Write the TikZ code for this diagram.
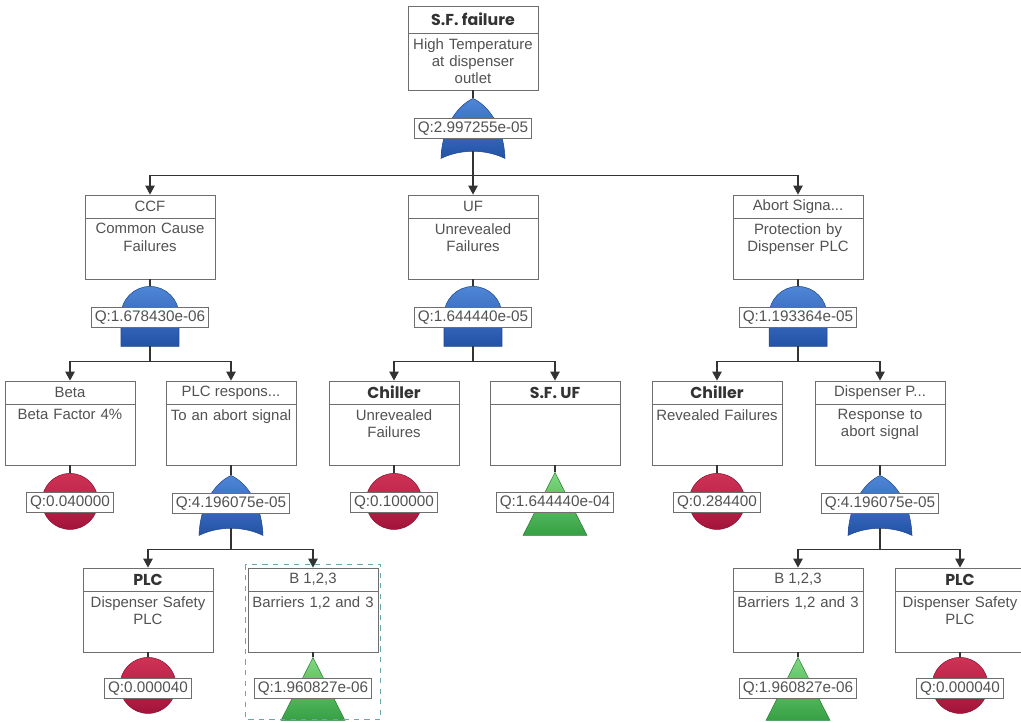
\documentclass[tikz,border=0pt]{standalone}
\usepackage{fontspec}
\setmainfont{Liberation Sans}
\newfontfamily\titlefont{Poppins}
\usetikzlibrary{positioning,arrows.meta}
\definecolor{textgray}{HTML}{525252}
\definecolor{linegray}{HTML}{6E6E6E}
\definecolor{gateblue}{HTML}{2352A6}
\definecolor{gatelight}{HTML}{4F86D6}
\definecolor{eventred}{HTML}{A3143A}
\definecolor{eventlight}{HTML}{CF3356}
\definecolor{transgreen}{HTML}{36A044}
\definecolor{translight}{HTML}{80D880}
\definecolor{selteal}{HTML}{6AA8A8}
\tikzset{
  evbox/.style={draw=linegray, fill=white, line width=0.5pt, minimum width=26mm, minimum height=16.8mm, inner sep=0pt},
  evtitle/.style={draw=linegray, line width=0.5pt, anchor=north, minimum width=26mm, minimum height=4.6mm, inner sep=0pt, text=textgray, font=\fontsize{8.5}{9.6}\selectfont},
  evtitlebold/.style={evtitle, text=black!80, font=\titlefont\bfseries\fontsize{9}{10}\selectfont},
  evbody/.style={anchor=north, text width=25mm, align=center, inner sep=0.9mm, text=textgray, font=\fontsize{8.5}{9.9}\selectfont},
  qlabel/.style={draw=linegray, fill=white, line width=0.5pt, inner xsep=0.7mm, inner ysep=0.4mm, minimum height=4mm, text=textgray, font=\fontsize{8.7}{9.8}\selectfont},
  link/.style={draw=black!80, line width=0.6pt},
  arrow/.style={link, -{Triangle[width=1.9mm,length=1.8mm]}},
  selbox/.style={draw=selteal, dashed, line width=0.6pt},
  andgate/.pic={
    \shade[top color=gatelight, bottom color=gateblue, draw=gateblue!85!black, line width=0.3pt]
      (-5.8mm,-12mm) -- (-5.8mm,-5.8mm) arc[start angle=180, end angle=0, radius=5.8mm] -- (5.8mm,-12mm) -- cycle;
    \coordinate (-top) at (0,0);
    \coordinate (-bot) at (0,-12mm);
  },
  orgate/.pic={
    \shade[top color=gatelight, bottom color=gateblue, draw=gateblue!85!black, line width=0.3pt]
      (0,0) .. controls (3.4mm,-1.6mm) and (6.2mm,-6mm) .. (6.4mm,-12mm)
      .. controls (2.5mm,-10.1mm) and (-2.5mm,-10.1mm) .. (-6.4mm,-12mm)
      .. controls (-6.2mm,-6mm) and (-3.4mm,-1.6mm) .. (0,0) -- cycle;
    \coordinate (-top) at (0,0);
    \coordinate (-bot) at (0,-10.6mm);
  },
  basicev/.pic={
    \shade[top color=eventlight, bottom color=eventred, draw=eventred!85!black, line width=0.3pt]
      (0,-5.6mm) circle[radius=5.6mm];
    \coordinate (-top) at (0,0);
  },
  transfer/.pic={
    \shade[top color=translight, bottom color=transgreen, draw=transgreen!80!black, line width=0.3pt]
      (0,0) -- (6.4mm,-12.6mm) -- (-6.4mm,-12.6mm) -- cycle;
    \coordinate (-top) at (0,0);
  }
}

\begin{document}
\begin{tikzpicture}[x=0.02cm, y=-0.02cm]
  \useasboundingbox (0,0) rectangle (1021,721);

  % event boxes
  \node[evbox] (sffail) at (473,48) {};
  \node[evtitlebold, minimum height=5.4mm] (sffail-t) at (sffail.north) {S.F. failure};
  \node[evbody, below=0mm of sffail-t] {High Temperature\\at dispenser\\outlet};

  \node[evbox] (ccf) at (150,237) {};
  \node[evtitle] (ccf-t) at (ccf.north) {CCF};
  \node[evbody, below=0mm of ccf-t] {Common Cause\\Failures};
  \node[evbox] (uf) at (473,237) {};
  \node[evtitle] (uf-t) at (uf.north) {UF};
  \node[evbody, below=0mm of uf-t] {Unrevealed\\Failures};
  \node[evbox] (abort) at (798,237) {};
  \node[evtitle] (abort-t) at (abort.north) {Abort Signa...};
  \node[evbody, below=0mm of abort-t] {Protection by\\Dispenser PLC};

  \node[evbox] (beta) at (70,423) {};
  \node[evtitle] (beta-t) at (beta.north) {Beta};
  \node[evbody, below=0mm of beta-t] {Beta Factor 4\%};
  \node[evbox] (plcresp) at (231,423) {};
  \node[evtitle] (plcresp-t) at (plcresp.north) {PLC respons...};
  \node[evbody, below=0mm of plcresp-t] {To an abort signal};
  \node[evbox] (chill1) at (394,423) {};
  \node[evtitlebold] (chill1-t) at (chill1.north) {Chiller};
  \node[evbody, below=0mm of chill1-t] {Unrevealed\\Failures};
  \node[evbox] (sfuf) at (555,423) {};
  \node[evtitlebold] (sfuf-t) at (sfuf.north) {S.F. UF};
  \node[evbox] (chill2) at (717,423) {};
  \node[evtitlebold] (chill2-t) at (chill2.north) {Chiller};
  \node[evbody, below=0mm of chill2-t] {Revealed Failures};
  \node[evbox] (disp) at (880,423) {};
  \node[evtitle] (disp-t) at (disp.north) {Dispenser P...};
  \node[evbody, below=0mm of disp-t] {Response to\\abort signal};

  \node[evbox] (plc1) at (148,610) {};
  \node[evtitlebold] (plc1-t) at (plc1.north) {PLC};
  \node[evbody, below=0mm of plc1-t] {Dispenser Safety\\PLC};
  \node[evbox] (b123a) at (313,610) {};
  \node[evtitle] (b123a-t) at (b123a.north) {B 1,2,3};
  \node[evbody, below=0mm of b123a-t] {Barriers 1,2 and 3};
  \node[evbox] (b123b) at (798,610) {};
  \node[evtitle] (b123b-t) at (b123b.north) {B 1,2,3};
  \node[evbody, below=0mm of b123b-t] {Barriers 1,2 and 3};
  \node[evbox] (plc2) at (960,610) {};
  \node[evtitlebold] (plc2-t) at (plc2.north) {PLC};
  \node[evbody, below=0mm of plc2-t] {Dispenser Safety\\PLC};

  % gates and basic events
  \pic (sffail-g) at ([yshift=-1.6mm]sffail.south) {orgate};
  \pic (ccf-g) at ([yshift=-1.4mm]ccf.south) {andgate};
  \pic (uf-g) at ([yshift=-1.4mm]uf.south) {andgate};
  \pic (abort-g) at ([yshift=-1.4mm]abort.south) {andgate};
  \pic (beta-g) at ([yshift=-1.6mm]beta.south) {basicev};
  \pic (plcresp-g) at ([yshift=-2mm]plcresp.south) {orgate};
  \pic (chill1-g) at ([yshift=-1.6mm]chill1.south) {basicev};
  \pic (sfuf-g) at ([yshift=-1.4mm]sfuf.south) {transfer};
  \pic (chill2-g) at ([yshift=-1.6mm]chill2.south) {basicev};
  \pic (disp-g) at ([yshift=-2mm]disp.south) {orgate};
  \pic (plc1-g) at ([yshift=-1mm]plc1.south) {basicev};
  \pic (b123a-g) at ([yshift=-1mm]b123a.south) {transfer};
  \pic (b123b-g) at ([yshift=-1mm]b123b.south) {transfer};
  \pic (plc2-g) at ([yshift=-1mm]plc2.south) {basicev};

  \foreach \ev in {sffail,ccf,uf,abort,beta,plcresp,chill1,sfuf,chill2,disp,plc1,b123a,b123b,plc2}
    \draw[link] (\ev.south) -- (\ev-g-top);

  % probability labels
  \node[qlabel] (sffail-q) at ([yshift=-6mm]sffail-g-top) {Q:2.997255e-05};
  \node[qlabel] (ccf-q) at ([yshift=-6.2mm]ccf-g-top) {Q:1.678430e-06};
  \node[qlabel] (uf-q) at ([yshift=-6.2mm]uf-g-top) {Q:1.644440e-05};
  \node[qlabel] (abort-q) at ([yshift=-6.2mm]abort-g-top) {Q:1.193364e-05};
  \node[qlabel] (beta-q) at ([yshift=-5.8mm]beta-g-top) {Q:0.040000};
  \node[qlabel] (plcresp-q) at ([yshift=-5.6mm]plcresp-g-top) {Q:4.196075e-05};
  \node[qlabel] (chill1-q) at ([yshift=-5.8mm]chill1-g-top) {Q:0.100000};
  \node[qlabel] (sfuf-q) at ([yshift=-6mm]sfuf-g-top) {Q:1.644440e-04};
  \node[qlabel] (chill2-q) at ([yshift=-5.8mm]chill2-g-top) {Q:0.284400};
  \node[qlabel] (disp-q) at ([yshift=-5.6mm]disp-g-top) {Q:4.196075e-05};
  \node[qlabel] (plc1-q) at ([yshift=-6.2mm]plc1-g-top) {Q:0.000040};
  \node[qlabel] (b123a-q) at ([yshift=-6.2mm]b123a-g-top) {Q:1.960827e-06};
  \node[qlabel] (b123b-q) at ([yshift=-6.2mm]b123b-g-top) {Q:1.960827e-06};
  \node[qlabel] (plc2-q) at ([yshift=-6.2mm]plc2-g-top) {Q:0.000040};

  % connectors
  \draw[arrow] (sffail-g-bot) -- ++(0,-4.8mm) -| (ccf.north);
  \draw[arrow] (sffail-g-bot) -- ++(0,-4.8mm) -| (uf.north);
  \draw[arrow] (sffail-g-bot) -- ++(0,-4.8mm) -| (abort.north);
  \draw[arrow] (ccf-g-bot) -- ++(0,-3mm) -| (beta.north);
  \draw[arrow] (ccf-g-bot) -- ++(0,-3mm) -| (plcresp.north);
  \draw[arrow] (uf-g-bot) -- ++(0,-3mm) -| (chill1.north);
  \draw[arrow] (uf-g-bot) -- ++(0,-3mm) -| (sfuf.north);
  \draw[arrow] (abort-g-bot) -- ++(0,-3mm) -| (chill2.north);
  \draw[arrow] (abort-g-bot) -- ++(0,-3mm) -| (disp.north);
  \draw[arrow] (plcresp-g-bot) -- ++(0,-4.2mm) -| (plc1.north);
  \draw[arrow] (plcresp-g-bot) -- ++(0,-4.2mm) -| (b123a.north);
  \draw[arrow] (disp-g-bot) -- ++(0,-4.2mm) -| (b123b.north);
  \draw[arrow] (disp-g-bot) -- ++(0,-4.2mm) -| (plc2.north);

  % selection frame
  \draw[selbox] ([shift={(-0.5mm,0.6mm)}]b123a.north west) rectangle ([shift={(0.5mm,-13.4mm)}]b123a.south east);
\end{tikzpicture}
\end{document}
